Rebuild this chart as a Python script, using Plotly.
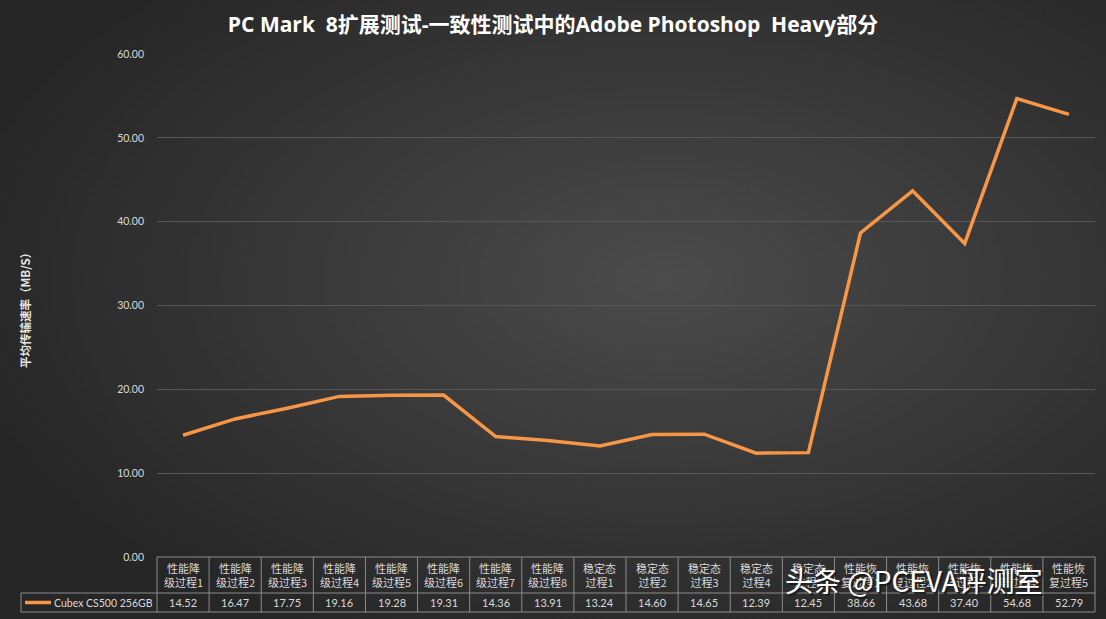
import base64
import plotly.graph_objects as go

categories = [
    "性能降<br>级过程1", "性能降<br>级过程2", "性能降<br>级过程3", "性能降<br>级过程4",
    "性能降<br>级过程5", "性能降<br>级过程6", "性能降<br>级过程7", "性能降<br>级过程8",
    "稳定态<br>过程1", "稳定态<br>过程2", "稳定态<br>过程3", "稳定态<br>过程4", "稳定态<br>过程5",
    "性能恢<br>复过程1", "性能恢<br>复过程2", "性能恢<br>复过程3", "性能恢<br>复过程4", "性能恢<br>复过程5",
]
series_name = "Cubex CS500 256GB"
values = [14.52, 16.47, 17.75, 19.16, 19.28, 19.31, 14.36, 13.91,
          13.24, 14.60, 14.65, 12.39, 12.45,
          38.66, 43.68, 37.40, 54.68, 52.79]
y_ticks = [0, 10, 20, 30, 40, 50, 60]

W, H = 1106, 619
L, R, T, B = 157, 11, 54, 62
pw, ph = W - L - R, H - T - B
n = len(categories)

CJK = "Noto Sans CJK SC"
TXT = "#d9d9d9"
GRID = "#575757"
BORDER = "#8c8c8c"
ORANGE = "#F79646"


def px_x(p):
    return (p - L) / pw


def px_y(p):
    return (H - B - p) / ph


def note(x, y, text, font, **kw):
    a = dict(x=x, y=y, xref="paper", yref="paper", text=text, showarrow=False,
             xanchor="center", yanchor="middle", font=font)
    a.update(kw)
    return a


# radial gradient background as svg image
svg = f"""<svg xmlns='http://www.w3.org/2000/svg' width='{W}' height='{H}'>
<defs><radialGradient id='g' cx='0.6' cy='0.45' r='0.65'>
<stop offset='0' stop-color='#4b4b4b'/><stop offset='1' stop-color='#262626'/>
</radialGradient></defs><rect width='{W}' height='{H}' fill='url(#g)'/></svg>"""
bg_src = "data:image/svg+xml;base64," + base64.b64encode(svg.encode()).decode()

fig = go.Figure()
fig.add_trace(go.Scatter(
    x=list(range(n)), y=values, mode="lines", name=series_name,
    line=dict(color=ORANGE, width=3.5), showlegend=False,
))

shapes = []
annotations = []

# ── table grid ──
y_top, y_mid, y_bot = 0, px_y(593), px_y(612)
x_leg = px_x(21)
line_style = dict(color=BORDER, width=1)
shapes.append(dict(type="line", xref="paper", yref="paper", x0=0, x1=1, y0=y_top, y1=y_top, line=line_style))
shapes.append(dict(type="line", xref="paper", yref="paper", x0=x_leg, x1=1, y0=y_mid, y1=y_mid, line=line_style))
shapes.append(dict(type="line", xref="paper", yref="paper", x0=x_leg, x1=1, y0=y_bot, y1=y_bot, line=line_style))
shapes.append(dict(type="line", xref="paper", yref="paper", x0=x_leg, x1=x_leg, y0=y_mid, y1=y_bot, line=line_style))
for i in range(n + 1):
    shapes.append(dict(type="line", xref="paper", yref="paper", x0=i / n, x1=i / n,
                       y0=y_top, y1=y_bot, line=line_style))

for i, (cat, v) in enumerate(zip(categories, values)):
    xc = (i + 0.5) / n
    annotations.append(note(xc, px_y(575), cat, dict(family=CJK, size=11, color=TXT)))
    annotations.append(note(xc, px_y(602.5), f"{v:.2f}", dict(family="Lato, " + CJK, size=11, color=TXT)))

# legend key in table
shapes.append(dict(type="line", xref="paper", yref="paper", x0=px_x(25), x1=px_x(51),
                   y0=px_y(602.5), y1=px_y(602.5), line=dict(color=ORANGE, width=3.5)))
annotations.append(note(px_x(52), px_y(602.5), series_name,
                        dict(family="Lato", size=10.5, color=TXT), xanchor="left"))

# y-axis title
annotations.append(note(px_x(25), px_y(308), "<b>平均传输速率（MB/S）</b>",
                        dict(family=CJK, size=11.5, color="#e6e6e6"), textangle=-90))

# watermark (with a dark shadow copy)
wm = "头条 @PCEVA评测室"
annotations.append(note(px_x(915.5), px_y(581.5), wm,
                        dict(family=CJK, size=28, color="rgba(25,25,25,0.9)")))
annotations.append(note(px_x(914), px_y(580), wm, dict(family=CJK, size=28, color="#ffffff")))

fig.update_layout(
    width=W, height=H,
    margin=dict(l=L, r=R, t=T, b=B),
    paper_bgcolor="#2e2e2e",
    plot_bgcolor="rgba(0,0,0,0)",
    title=dict(
        text="<b>PC Mark  8扩展测试-一致性测试中的Adobe Photoshop  Heavy部分</b>",
        x=0.5, xanchor="center", y=1 - 25 / H, yanchor="middle",
        font=dict(family="Open Sans, " + CJK, size=21, color="#ffffff"),
    ),
    shapes=shapes,
    annotations=annotations,
    images=[dict(source=bg_src, xref="paper", yref="paper",
                 x=-L / pw, y=1 + T / ph, sizex=W / pw, sizey=H / ph,
                 xanchor="left", yanchor="top", sizing="stretch", layer="below")],
    showlegend=False,
)
fig.update_xaxes(range=[-0.5, n - 0.5], showticklabels=False, showgrid=False,
                 zeroline=False, showline=False, fixedrange=True)
fig.update_yaxes(range=[0, 60], tickvals=y_ticks, tickformat=".2f",
                 showgrid=True, gridcolor=GRID, gridwidth=1, zeroline=False,
                 ticklabelstandoff=12,
                 tickfont=dict(family="Lato", size=10.5, color=TXT), fixedrange=True)

fig.write_html("out.html", config={"displayModeBar": False},
               post_script="document.body.style.margin='0';")
